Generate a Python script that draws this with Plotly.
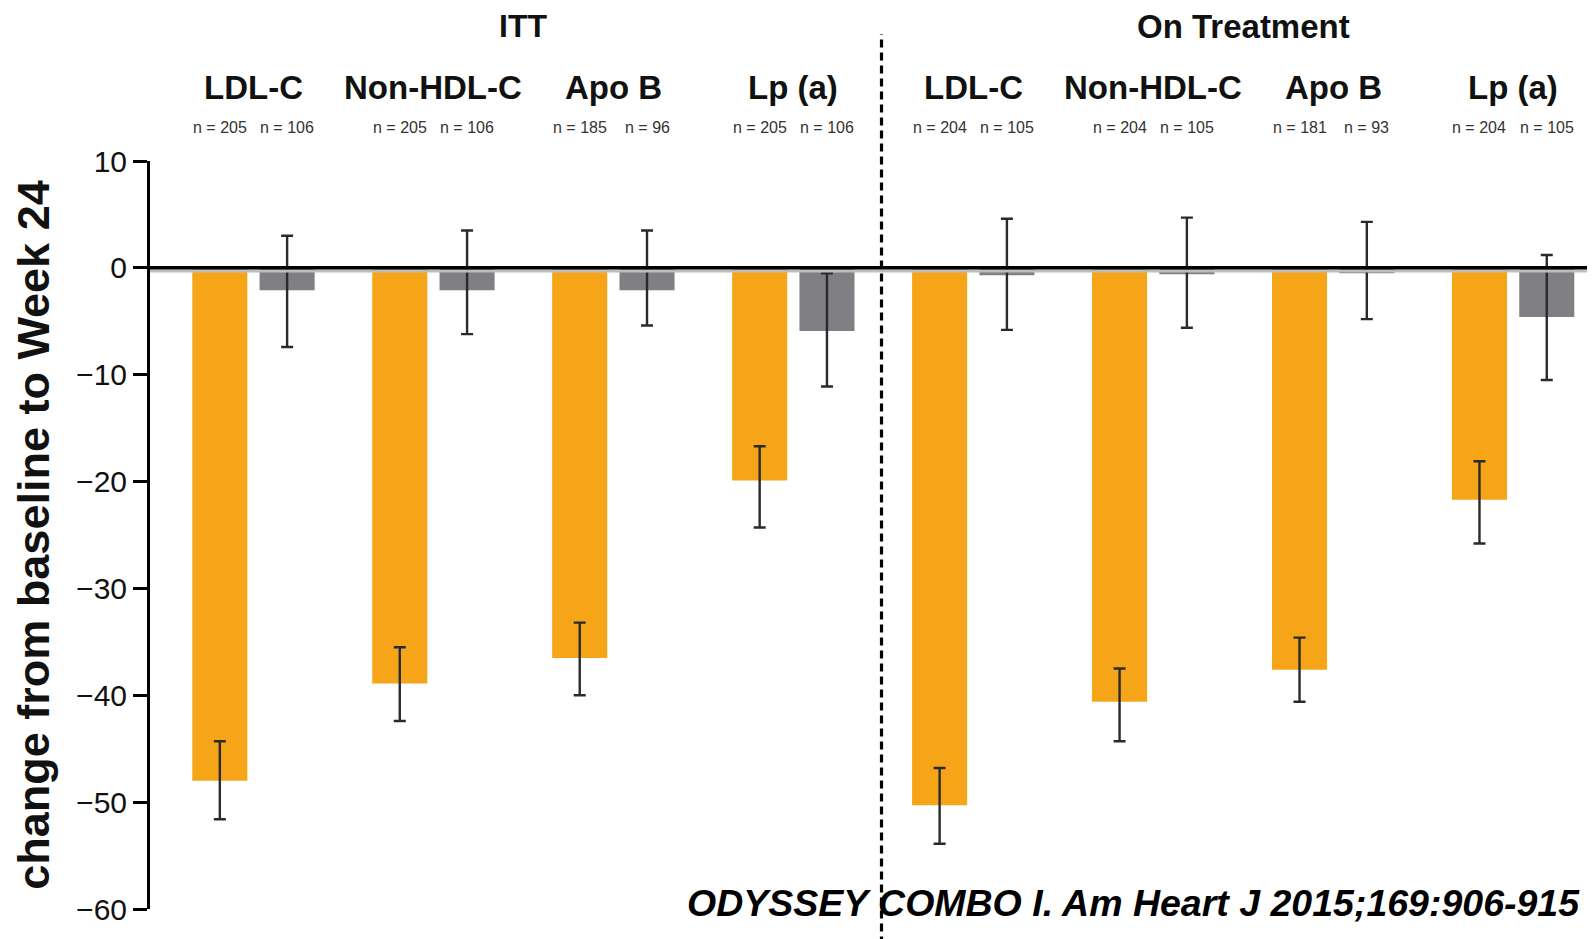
import plotly.graph_objects as go

# ---- data ----
markers = ["LDL-C", "Non-HDL-C", "Apo B", "Lp (a)", "LDL-C", "Non-HDL-C", "Apo B", "Lp (a)"]
panels = ["ITT", "On Treatment"]
alirocumab = [-48.0, -38.9, -36.5, -19.9, -50.3, -40.6, -37.6, -21.7]
alir_err_plus = [3.7, 3.4, 3.3, 3.2, 3.5, 3.1, 3.0, 3.6]
alir_err_minus = [3.6, 3.5, 3.5, 4.4, 3.6, 3.7, 3.0, 4.1]
placebo = [-2.1, -2.1, -2.1, -5.9, -0.7, -0.6, -0.5, -4.6]
plac_err_plus = [5.1, 5.6, 5.6, 5.4, 5.3, 5.3, 4.8, 5.8]
plac_err_minus = [5.3, 4.1, 3.3, 5.2, 5.1, 5.0, 4.3, 5.9]
n_alirocumab = ["n = 205", "n = 205", "n = 185", "n = 205", "n = 204", "n = 204", "n = 181", "n = 204"]
n_placebo = ["n = 106", "n = 106", "n = 96", "n = 106", "n = 105", "n = 105", "n = 93", "n = 105"]
y_ticks = [10, 0, -10, -20, -30, -40, -50, -60]
citation = "ODYSSEY COMBO I. Am Heart J 2015;169:906-915"

x = list(range(len(markers)))
ORANGE = "#F6A519"
GRAY = "#808084"
FONT = "Liberation Sans, Arial, sans-serif"
BAR_W = 0.306
PAGE_OFF = 8  # default body margin of the html page

fig = go.Figure()
fig.add_trace(go.Bar(
    x=x, y=alirocumab, width=BAR_W, offset=-0.34,
    marker=dict(color=ORANGE, line=dict(width=0)),
    error_y=dict(type="data", symmetric=False, array=alir_err_plus, arrayminus=alir_err_minus,
                 color="#2a2a2a", thickness=2.4, width=6),
    showlegend=False,
))
fig.add_trace(go.Bar(
    x=x, y=placebo, width=BAR_W, offset=0.034,
    marker=dict(color=GRAY, line=dict(width=0)),
    error_y=dict(type="data", symmetric=False, array=plac_err_plus, arrayminus=plac_err_minus,
                 color="#2a2a2a", thickness=2.4, width=6),
    showlegend=False,
))

# zero line shadow + zero line
fig.add_shape(type="line", xref="paper", yref="y", x0=0, x1=1, y0=-0.3, y1=-0.3,
              line=dict(color="#bdbdbd", width=3), layer="above")
fig.add_shape(type="line", xref="paper", yref="y", x0=0, x1=1, y0=0, y1=0,
              line=dict(color="#000000", width=3.5), layer="above")

plot_top, plot_bottom = 161, 909.4  # in page pixels
ph = plot_bottom - plot_top
def ypaper(py):
    return (plot_bottom - py) / ph

# dashed divider
fig.add_shape(type="line", xref="x", yref="paper", x0=3.49, x1=3.49, y0=ypaper(945), y1=ypaper(34),
              line=dict(color="#000000", width=3.2, dash="8px,5px"), layer="above")

annotations = []
centers_alir = [i - 0.34 + BAR_W / 2 for i in x]
centers_plac = [i + 0.034 + BAR_W / 2 for i in x]
for i, m in enumerate(markers):
    annotations.append(dict(x=i, y=ypaper(87), xref="x", yref="paper", yanchor="middle", showarrow=False,
                            text="<b>%s</b>" % m, font=dict(family=FONT, size=33, color="#111")))
    annotations.append(dict(x=centers_alir[i], y=ypaper(127), xref="x", yref="paper", yanchor="middle",
                            showarrow=False, text=n_alirocumab[i],
                            font=dict(family=FONT, size=16, color="#333")))
    annotations.append(dict(x=centers_plac[i], y=ypaper(127), xref="x", yref="paper", yanchor="middle",
                            showarrow=False, text=n_placebo[i],
                            font=dict(family=FONT, size=16, color="#333")))
annotations.append(dict(x=1.5, y=ypaper(26), xref="x", yref="paper", yanchor="middle", showarrow=False,
                        text="<b>%s</b>" % panels[0], font=dict(family=FONT, size=32, color="#111")))
annotations.append(dict(x=5.5, y=ypaper(26), xref="x", yref="paper", yanchor="middle", showarrow=False,
                        text="<b>%s</b>" % panels[1], font=dict(family=FONT, size=33, color="#111")))
annotations.append(dict(x=1.0 - 13 / (1595 - 150), y=ypaper(903), xref="paper", yref="paper",
                        xanchor="right", yanchor="middle", showarrow=False,
                        text="<b><i>%s</i></b>" % citation,
                        font=dict(family=FONT, size=37.5, color="#000")))

fig.update_layout(
    width=1595 - PAGE_OFF, height=939 - PAGE_OFF,
    margin=dict(l=150 - PAGE_OFF, r=0, t=161 - PAGE_OFF, b=30),
    paper_bgcolor="white", plot_bgcolor="white",
    barmode="overlay",
    annotations=annotations,
    xaxis=dict(range=[-0.575, 7.455], showticklabels=False, showgrid=False, zeroline=False,
               showline=False, ticks=""),
    yaxis=dict(range=[-60, 10], tickvals=y_ticks, ticktext=[str(v).replace("-", "−") for v in y_ticks],
               showgrid=False, zeroline=False, showline=True, linecolor="#000", linewidth=3,
               ticks="outside", ticklen=14, tickwidth=3, tickcolor="#000",
               tickfont=dict(family=FONT, size=30, color="#111"),
               title=dict(text="<b>change from baseline to Week 24</b>", standoff=14,
                          font=dict(family=FONT, size=45, color="#111"))),
)

fig.write_html("out.html")
